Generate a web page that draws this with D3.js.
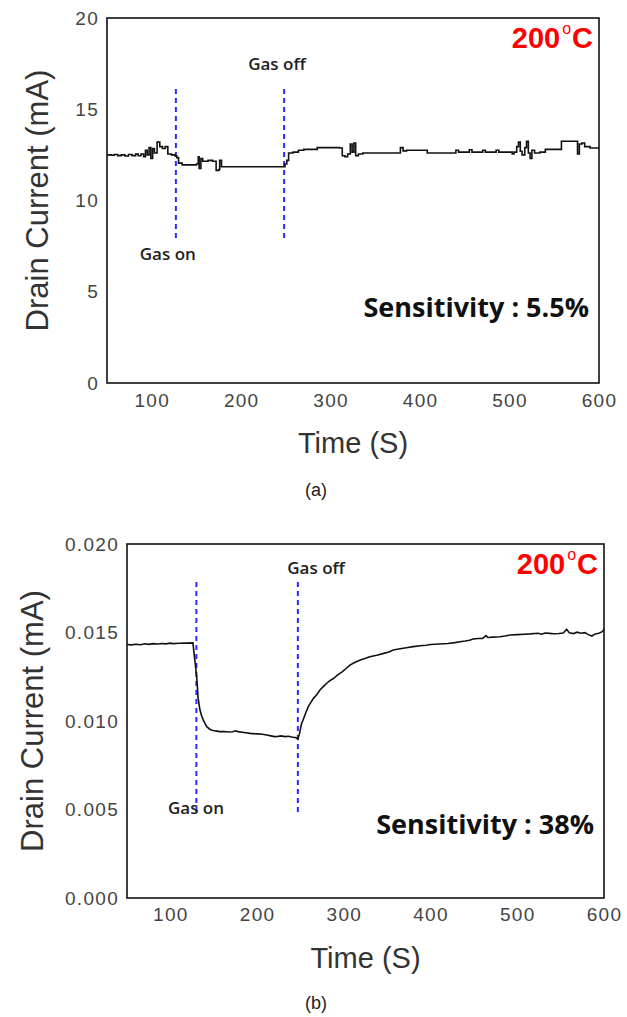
<!DOCTYPE html>
<html>
<head>
<meta charset="utf-8">
<script src="https://cdn.jsdelivr.net/npm/d3@7"></script>
<style>
  body { margin: 0; background: #fff; }
  svg { display: block; }
</style>
</head>
<body>
<div id="chart"></div>
<script>
// panel (a): drain current in mA, stepped trace
const timeA = [50, 55, 58, 62, 66, 70, 74, 78, 82, 85, 88, 91, 93, 95, 97, 99, 101, 103, 106, 109,
  112, 115, 118, 122, 126, 128, 130, 134, 140, 146, 150, 152, 153, 155, 157, 163, 168, 172, 175, 176,
  178, 200, 220, 247, 249, 251, 253, 258, 264, 270, 285, 300, 310, 313, 316, 319, 322, 324, 326, 328,
  331, 336, 360, 375, 378, 381, 385, 405, 408, 437, 440, 443, 452, 455, 458, 467, 470, 473, 482, 485,
  488, 500, 503, 505, 508, 510, 512, 514, 517, 519, 521, 523, 525, 528, 534, 540, 556, 558, 575, 576,
  578, 581, 584, 590, 600];
const currentA = [12.5, 12.48, 12.52, 12.46, 12.5, 12.44, 12.52, 12.46, 12.54, 12.45, 12.55, 12.4, 12.75, 12.5, 12.9, 12.3, 12.85, 12.6, 13.2, 12.95,
  12.85, 12.95, 12.55, 12.5, 12.45, 12.35, 12.05, 11.95, 11.95, 11.95, 12.0, 12.4, 11.75, 12.3, 12.15, 12.2, 12.15, 11.65, 11.7, 12.2,
  11.85, 11.85, 11.85, 11.85, 12.0, 12.2, 12.6, 12.65, 12.75, 12.8, 12.9, 12.9, 12.88, 12.45, 12.4, 12.55, 13.1, 12.65, 13.15, 12.45,
  12.55, 12.6, 12.6, 12.6, 12.9, 12.72, 12.75, 12.75, 12.6, 12.6, 12.75, 12.65, 12.65, 12.78, 12.65, 12.65, 12.75, 12.65, 12.65, 12.75,
  12.65, 12.65, 12.55, 12.65, 12.95, 13.2, 12.7, 12.5, 12.9, 13.25, 12.6, 12.3, 12.75, 12.6, 12.65, 12.8, 12.8, 13.25, 13.25, 12.55,
  13.1, 13.15, 12.95, 12.88, 12.88];
const yTicksA = [0, 5, 10, 15, 20];

// panel (b): drain current in mA, smooth trace
const timeB = [50, 55, 60, 66, 70, 75, 80, 85, 90, 95, 100, 103, 110, 118, 126, 127.5, 129, 130.5, 132, 134,
  136, 138, 140, 142, 145, 148, 152, 157, 162, 167, 172, 175, 178, 185, 192, 200, 206, 211, 216, 220,
  224, 228, 232, 236, 240, 245, 247, 249, 251, 253, 256, 259, 262, 265, 269, 272.5, 276, 280, 284, 288,
  293, 298, 303, 307, 313, 319, 325, 330, 338, 346, 352, 357, 365, 372, 380, 388, 395, 400, 410, 420,
  428, 434, 440, 445, 449, 455, 460, 464, 466, 472, 480, 486, 492, 500, 508, 515, 520, 524, 528, 532,
  537, 542, 548, 553, 557, 560, 565, 569, 573, 578, 582, 586, 590, 594, 598, 600];
const currentB = [0.01432, 0.0143, 0.01434, 0.01431, 0.01436, 0.01433, 0.01437, 0.01435, 0.01438, 0.01436, 0.0144, 0.01437, 0.01439, 0.0144, 0.01441, 0.01375, 0.0131, 0.0124, 0.0113, 0.01065,
  0.0103, 0.01005, 0.00985, 0.00968, 0.00955, 0.00948, 0.00944, 0.0094, 0.00941, 0.00938, 0.00939, 0.00945, 0.0094, 0.00935, 0.0093, 0.00927, 0.00925, 0.00921, 0.00916, 0.00912,
  0.00913, 0.00916, 0.00912, 0.00914, 0.0091, 0.00906, 0.00898, 0.0093, 0.0098, 0.01006, 0.01045, 0.01081, 0.01105, 0.01128, 0.0115, 0.01175, 0.01193, 0.01212, 0.01228, 0.0124,
  0.0126, 0.01278, 0.01298, 0.01316, 0.01332, 0.01345, 0.01354, 0.01363, 0.01372, 0.01382, 0.0139, 0.01401, 0.01408, 0.01414, 0.0142, 0.01425, 0.01428, 0.01432, 0.01435, 0.01438,
  0.01443, 0.01448, 0.01452, 0.01456, 0.01463, 0.01466, 0.01467, 0.01482, 0.01472, 0.01474, 0.01476, 0.0148, 0.01486, 0.01488, 0.0149, 0.01492, 0.01494, 0.01496, 0.0149, 0.01497,
  0.01495, 0.01493, 0.01494, 0.01497, 0.01518, 0.01498, 0.01494, 0.01502, 0.01496, 0.01499, 0.01488, 0.0148, 0.01492, 0.01496, 0.01505, 0.01518];
const yTicksB = [0, 0.005, 0.01, 0.015, 0.02];

const xTicks = [100, 200, 300, 400, 500, 600];

// gas on / gas off markers: [time, yFrom, yTo]
const gasA = [[127, 7.95, 16.3], [248, 7.95, 16.3]];
const gasB = [[130, 0.00486, 0.0179], [247, 0.00486, 0.0179]];
// labels: [text, time, value]
const gasLabelsA = [["Gas off", 240, 17.5], ["Gas on", 118, 7.1]];
const gasLabelsB = [["Gas off", 268, 0.0187], ["Gas on", 129.6, 0.00514]];

const width = 627, height = 1017;
const svg = d3.select("#chart").append("svg")
  .attr("width", width)
  .attr("height", height);

function drawPanel(p) {
  const x = d3.scaleLinear().domain([50, 600]).range([p.left, p.right]);
  const y = d3.scaleLinear().domain(p.yDomain).range([p.bottom, p.top]);
  const g = svg.append("g");

  // tick labels
  const xa = g.append("g")
    .attr("transform", `translate(0,${p.bottom})`)
    .call(d3.axisBottom(x).tickValues(xTicks).tickSize(0).tickPadding(p.xPad));
  const ya = g.append("g")
    .attr("transform", `translate(${p.left},0)`)
    .call(d3.axisLeft(y).tickValues(p.yTicks).tickSize(0).tickPadding(8).tickFormat(p.fmt));
  [xa, ya].forEach(a => {
    a.select(".domain").remove();
    a.selectAll("text")
      .attr("font-family", "Liberation Sans, Arial, sans-serif")
      .attr("font-size", 19)
      .attr("letter-spacing", 1.3)
      .attr("fill", "#444");
  });

  // frame
  g.append("rect")
    .attr("x", p.left).attr("y", p.top)
    .attr("width", p.right - p.left).attr("height", p.bottom - p.top)
    .attr("fill", "none").attr("stroke", "#111").attr("stroke-width", 1.6);

  // gas markers
  g.selectAll(".gas").data(p.gas).join("line")
    .attr("x1", d => x(d[0])).attr("x2", d => x(d[0]))
    .attr("y1", d => y(d[1])).attr("y2", d => y(d[2]))
    .attr("stroke", "#2a2aff").attr("stroke-width", 2)
    .attr("stroke-dasharray", "5,4");

  // trace
  const pts = p.t.map((t, i) => [t, p.v[i]]);
  g.append("path")
    .datum(pts)
    .attr("fill", "none")
    .attr("stroke", "#111")
    .attr("stroke-width", 1.6)
    .attr("d", d3.line().x(d => x(d[0])).y(d => y(d[1])).curve(p.curve));

  g.selectAll(".gl").data(p.labels).join("text")
    .attr("x", d => x(d[1])).attr("y", d => y(d[2]))
    .attr("text-anchor", "middle").attr("dominant-baseline", "central")
    .attr("font-family", "Open Sans, sans-serif").attr("font-size", 17)
    .attr("font-weight", 600).attr("fill", "#222")
    .text(d => d[0]);

  // temperature tag
  const temp = g.append("text")
    .attr("x", p.right - 6).attr("y", p.top + 30)
    .attr("text-anchor", "end")
    .attr("font-family", "Liberation Sans, Arial, sans-serif")
    .attr("font-size", 29).attr("font-weight", "bold").attr("fill", "#ff0000");
  temp.append("tspan").text("200");
  temp.append("tspan").attr("font-size", 16).attr("font-weight", "normal").attr("dx", 2).attr("dy", -14).text("o");
  temp.append("tspan").attr("dy", 14).attr("dx", 1).text("C");

  g.append("text")
    .attr("x", p.right - 10).attr("y", p.sensY)
    .attr("text-anchor", "end")
    .attr("font-family", "Open Sans, sans-serif")
    .attr("font-size", 27).attr("font-weight", "bold").attr("fill", "#111")
    .text(p.sens);

  // axis titles
  g.append("text")
    .attr("x", (p.left + p.right) / 2).attr("y", p.bottom + 60)
    .attr("text-anchor", "middle").attr("dominant-baseline", "central")
    .attr("font-family", "Liberation Sans, Arial, sans-serif")
    .attr("font-size", 29).attr("fill", "#333")
    .text("Time (S)");
  g.append("text")
    .attr("transform", `translate(${p.titleX},${(p.top + p.bottom) / 2}) rotate(-90)`)
    .attr("text-anchor", "middle").attr("dominant-baseline", "central")
    .attr("font-family", "Liberation Sans, Arial, sans-serif")
    .attr("font-size", 31).attr("fill", "#333")
    .text("Drain Current (mA)");

  g.append("text")
    .attr("x", 316).attr("y", p.capY)
    .attr("text-anchor", "middle").attr("dominant-baseline", "central")
    .attr("font-family", "Liberation Sans, Arial, sans-serif")
    .attr("font-size", 18).attr("fill", "#222")
    .text(p.caption);
}

drawPanel({
  left: 107, right: 599, top: 18, bottom: 383,
  yDomain: [0, 20], yTicks: yTicksA, fmt: d3.format("d"), xPad: 11,
  t: timeA, v: currentA, curve: d3.curveStepAfter,
  gas: gasA, labels: gasLabelsA,
  sens: "Sensitivity : 5.5%", sensY: 317, titleX: 37, capY: 490, caption: "(a)"
});

drawPanel({
  left: 127, right: 604, top: 544, bottom: 898,
  yDomain: [0, 0.02], yTicks: yTicksB, fmt: d3.format(".3f"), xPad: 10,
  t: timeB, v: currentB, curve: d3.curveLinear,
  gas: gasB, labels: gasLabelsB,
  sens: "Sensitivity : 38%", sensY: 834, titleX: 32, capY: 1003, caption: "(b)"
});
</script>
</body>
</html>
